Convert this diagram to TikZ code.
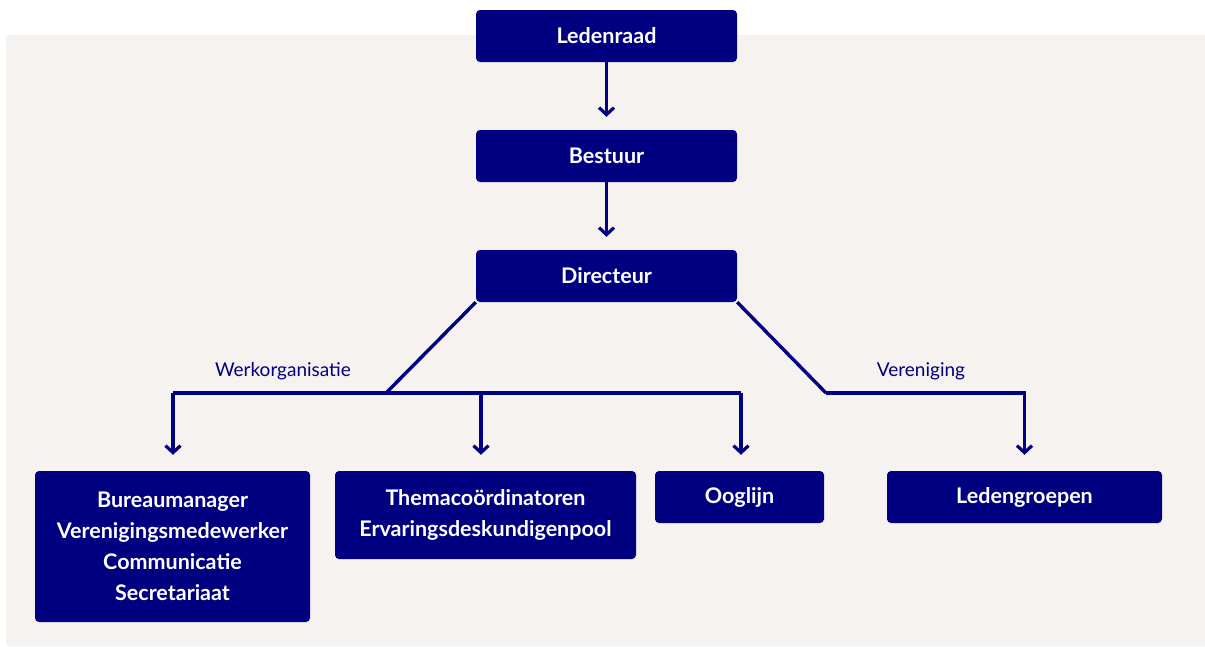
\documentclass[tikz,border=0pt]{standalone}
\usepackage{fontspec}
\setmainfont{Lato}
\usetikzlibrary{arrows.meta}
\definecolor{navy}{HTML}{000080}
\definecolor{bg}{HTML}{F6F2EF}
\tikzset{
  box/.style={fill=navy, rounded corners=4pt, text=white, font=\bfseries\fontsize{21.5}{31}\selectfont, align=center, inner sep=0pt},
  conn/.style={draw=navy, line width=3.4pt},
  arr/.style={conn, -{Straight Barb[length=7pt,width=15pt,line width=3.2pt]}},
  lbl/.style={text=navy, font=\fontsize{19}{22}\selectfont, inner sep=0pt}
}
\begin{document}
\begin{tikzpicture}[x=1pt,y=-1pt]
\useasboundingbox (0,0) rectangle (1205,646);
\fill[bg, rounded corners=3pt] (6,35) rectangle (1210,646);
\node[box, minimum width=261pt, minimum height=52pt] (led) at (606.5,36) {Ledenraad};
\node[box, minimum width=261pt, minimum height=52pt] (bes) at (606.5,156) {Bestuur};
\node[box, minimum width=261pt, minimum height=52pt] (dir) at (606.5,276) {Directeur};
\node[box, minimum width=275pt, minimum height=151pt] (bur) at (172.5,546.5) {Bureaumanager\\Verenigingsmedewerker\\Communicatie\\Secretariaat};
\node[box, minimum width=301pt, minimum height=88pt] (thm) at (485.5,515) {Themacoördinatoren\\Ervaringsdeskundigenpool};
\node[box, minimum width=169pt, minimum height=52pt] (oog) at (739.5,497) {Ooglijn};
\node[box, minimum width=275pt, minimum height=52pt] (lg) at (1024.5,497) {Ledengroepen};
\coordinate (wl) at (386,393);
\coordinate (vr) at (826,393);
\coordinate (wa) at (173,393);
\coordinate (wm) at (481,393);
\coordinate (wb) at (741,393);
\draw[arr] (led.south) -- ([yshift=13pt]bes.north);
\draw[arr] (bes.south) -- ([yshift=13pt]dir.north);
\draw[conn] (dir.south west) -- (wl);
\draw[conn] (wa) -- (wb);
\draw[arr] (wa) -- ([yshift=16pt]bur.north -| wa);
\draw[arr] (wm) -- ([yshift=16pt]thm.north -| wm);
\draw[arr] (wb) -- ([yshift=16pt]oog.north -| wb);
\draw[conn] (dir.south east) -- (vr);
\draw[arr] (vr) -| ([yshift=16pt]lg.north);
\node[lbl] (wo) at (283,371) {Werkorganisatie};
\node[lbl] (ve) at (921,371) {Vereniging};
\end{tikzpicture}
\end{document}
